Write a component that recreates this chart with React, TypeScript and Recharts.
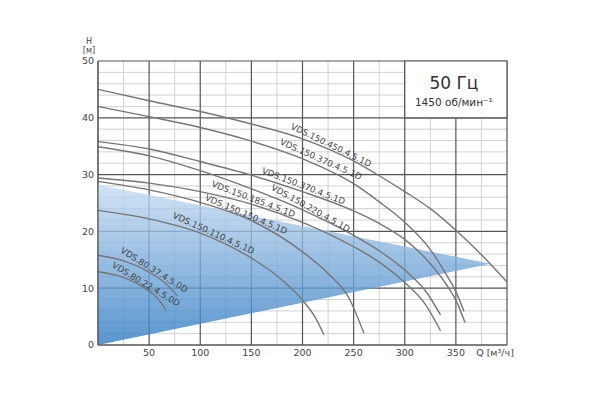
import React from "react";
import {
  ComposedChart,
  Line,
  Area,
  XAxis,
  YAxis,
  CartesianGrid,
  ReferenceArea,
  ReferenceDot,
} from "recharts";

// pump curves: Q [m3/h] -> H [m]
const vds150_450 = [
  { q: 0, h: 45 }, { q: 50, h: 43 }, { q: 100, h: 41.1 }, { q: 150, h: 38.9 },
  { q: 200, h: 36.3 }, { q: 250, h: 32.4 }, { q: 275, h: 29.8 }, { q: 300, h: 27.0 },
  { q: 325, h: 24.0 }, { q: 350, h: 20.2 }, { q: 375, h: 15.9 }, { q: 400, h: 11.1 },
];
const vds150_370a = [
  { q: 0, h: 42 }, { q: 50, h: 40.2 }, { q: 100, h: 38.3 }, { q: 150, h: 35.9 },
  { q: 200, h: 32.8 }, { q: 250, h: 28.4 }, { q: 275, h: 25.2 }, { q: 300, h: 21.6 },
  { q: 325, h: 16.8 }, { q: 340, h: 12.6 }, { q: 350, h: 9.4 }, { q: 358, h: 5.9 },
];
const vds150_370b = [
  { q: 0, h: 35.8 }, { q: 50, h: 34.5 }, { q: 100, h: 32.3 }, { q: 150, h: 29.9 },
  { q: 200, h: 27.0 }, { q: 250, h: 23.6 }, { q: 275, h: 21.4 }, { q: 300, h: 18.6 },
  { q: 325, h: 14.3 }, { q: 342, h: 10.3 }, { q: 350, h: 7.9 }, { q: 359, h: 3.9 },
];
const vds150_220 = [
  { q: 0, h: 34.9 }, { q: 50, h: 33.3 }, { q: 100, h: 30.7 }, { q: 150, h: 27.5 },
  { q: 200, h: 23.8 }, { q: 250, h: 19.3 }, { q: 275, h: 16.6 }, { q: 300, h: 13.2 },
  { q: 320, h: 9.6 }, { q: 335, h: 5.3 },
];
const vds150_185 = [
  { q: 0, h: 29.4 }, { q: 50, h: 28.5 }, { q: 100, h: 27.0 }, { q: 150, h: 24.8 },
  { q: 200, h: 21.6 }, { q: 250, h: 17.3 }, { q: 275, h: 14.6 }, { q: 300, h: 11.0 },
  { q: 320, h: 7.2 }, { q: 335, h: 2.5 },
];
const vds150_150 = [
  { q: 0, h: 28.8 }, { q: 50, h: 27.3 }, { q: 100, h: 25.1 }, { q: 150, h: 21.9 },
  { q: 200, h: 16.4 }, { q: 225, h: 12.6 }, { q: 245, h: 8.4 }, { q: 260, h: 2.1 },
];
const vds150_110 = [
  { q: 0, h: 23.7 }, { q: 50, h: 22.2 }, { q: 100, h: 19.7 }, { q: 150, h: 15.3 },
  { q: 175, h: 12.2 }, { q: 200, h: 7.9 }, { q: 212, h: 5.0 }, { q: 221, h: 1.8 },
];
const vds80_37 = [
  { q: 0, h: 15.8 }, { q: 25, h: 14.8 }, { q: 50, h: 12.8 }, { q: 65, h: 11.0 }, { q: 78, h: 8.6 },
];
const vds80_22 = [
  { q: 0, h: 12.9 }, { q: 25, h: 11.9 }, { q: 45, h: 10.1 }, { q: 58, h: 8.3 }, { q: 67, h: 6.0 },
];

const curves = [vds150_450, vds150_370a, vds150_370b, vds150_220, vds150_185, vds150_150, vds150_110, vds80_37, vds80_22];

// working range (blue wedge): low / high H
const workBand = [
  { q: 0, band: [0, 28.2] },
  { q: 384, band: [14.3, 14.3] },
];

const curveLabels = [
  { text: "VDS.150.450.4.5.1D", q: 228, h: 35.2, angle: 26 },
  { text: "VDS.150.370.4.5.1D", q: 218, h: 32.7, angle: 24 },
  { text: "VDS.150.370.4.5.1D", q: 201, h: 28, angle: 21 },
  { text: "VDS.150.220.4.5.1D", q: 208, h: 24.1, angle: 29 },
  { text: "VDS.150.185.4.5.1D", q: 152, h: 25.7, angle: 20.5 },
  { text: "VDS.150.150.4.5.1D", q: 145, h: 23, angle: 23 },
  { text: "VDS.150.110.4.5.1D", q: 113, h: 19.7, angle: 24.5 },
  { text: "VDS.80.37.4.5.0D", q: 55, h: 13.2, angle: 32 },
  { text: "VDS.80.22.4.5.0D", q: 47, h: 10.7, angle: 31 },
];

const qTicks = [50, 100, 150, 200, 250, 300, 350, 400];
const hTicks = [0, 10, 20, 30, 40, 50];
const qMajor = [0, 50, 100, 150, 200, 250, 300, 350, 400];
const qMinor = [25, 75, 125, 175, 225, 275, 325, 375];
const hMajor = [0, 10, 20, 30, 40, 50];
const hMinor = [2, 4, 6, 8, 12, 14, 16, 18, 22, 24, 26, 28, 32, 34, 36, 38, 42, 44, 46, 48];

const FONT = "DejaVu Sans, Verdana, sans-serif";
const TXT = "#444";

const QTick = ({ x, y, payload }: any) => {
  if (payload.value === 400) {
    return (
      <text x={x - 12} y={y} dy="0.71em" textAnchor="middle" fontSize={9.5} fontFamily={FONT} fill={TXT}>
        Q [м³/ч]
      </text>
    );
  }
  return (
    <text x={x} y={y} dy="0.71em" textAnchor="middle" fontSize={9.5} fontFamily={FONT} fill={TXT}>
      {payload.value}
    </text>
  );
};

const HLabel = ({ viewBox }: any) => {
  const cx = viewBox.x + viewBox.width - 9;
  return (
    <g fontFamily={FONT} fontSize={8} fill={TXT} textAnchor="middle">
      <text x={cx} y={viewBox.y - 20} dominantBaseline="central">H</text>
      <text x={cx} y={viewBox.y - 11} dominantBaseline="central">[м]</text>
    </g>
  );
};

const BoxLabel = ({ viewBox }: any) => {
  const cx = viewBox.x + viewBox.width / 2 - 2;
  return (
    <g fontFamily={FONT} fill="#333" textAnchor="middle">
      <text x={cx} y={viewBox.y + 28} fontSize={17}>50 Гц</text>
      <text x={cx} y={viewBox.y + 45} fontSize={10.5}>1450 об/мин⁻¹</text>
    </g>
  );
};

export default function App() {
  return (
    <div style={{ position: "absolute", left: 0, top: 0, width: 592, height: 402, background: "#fff" }}>
      <ComposedChart width={592} height={402} margin={{ top: 61, right: 85, bottom: 32, left: 68 }}>
        <defs>
          <linearGradient id="workFill" x1="0" y1="0" x2="0" y2="1">
            <stop offset="0%" stopColor="#c6dcf1" />
            <stop offset="100%" stopColor="#2f7bc3" />
          </linearGradient>
        </defs>
        <XAxis
          type="number"
          dataKey="q"
          domain={[0, 400]}
          ticks={qTicks}
          interval={0}
          height={25}
          tickLine={false}
          tickSize={2}
          tickMargin={2}
          axisLine={{ stroke: "#555" }}
          tick={<QTick />}
          allowDataOverflow
        />
        <YAxis
          type="number"
          domain={[0, 50]}
          ticks={hTicks}
          interval={0}
          width={30}
          tickLine={false}
          tickSize={2}
          tickMargin={2}
          axisLine={{ stroke: "#555" }}
          tick={{ fontSize: 9.5, fontFamily: FONT, fill: TXT }}
          label={<HLabel />}
          allowDataOverflow
        />
        <Area
          data={workBand}
          dataKey="band"
          type="linear"
          stroke="none"
          fill="url(#workFill)"
          fillOpacity={0.8}
          isAnimationActive={false}
          dot={false}
          activeDot={false}
        />
        <CartesianGrid horizontalValues={hMinor} verticalValues={qMinor} stroke="#d2d2d2" strokeWidth={1} />
        <CartesianGrid horizontalValues={hMajor} verticalValues={qMajor} stroke="#555" strokeWidth={1.2} />
        <ReferenceArea x1={300} x2={400} y1={40} y2={50} fill="#fff" fillOpacity={1} stroke="#555" strokeWidth={1.2} label={<BoxLabel />} />
        {curves.map((c, i) => (
          <Line
            key={i}
            data={c}
            dataKey="h"
            type="monotone"
            stroke="#767676"
            strokeWidth={1.4}
            dot={false}
            activeDot={false}
            isAnimationActive={false}
          />
        ))}
        {curveLabels.map((l, i) => (
          <ReferenceDot
            key={i}
            x={l.q}
            y={l.h}
            r={0}
            shape={(p: any) => (
              <text
                x={p.cx}
                y={p.cy}
                transform={`rotate(${l.angle} ${p.cx} ${p.cy})`}
                textAnchor="middle"
                dominantBaseline="central"
                fontSize={8.7}
                fontFamily={FONT}
                fill={TXT}
              >
                {l.text}
              </text>
            )}
          />
        ))}
      </ComposedChart>
    </div>
  );
}
